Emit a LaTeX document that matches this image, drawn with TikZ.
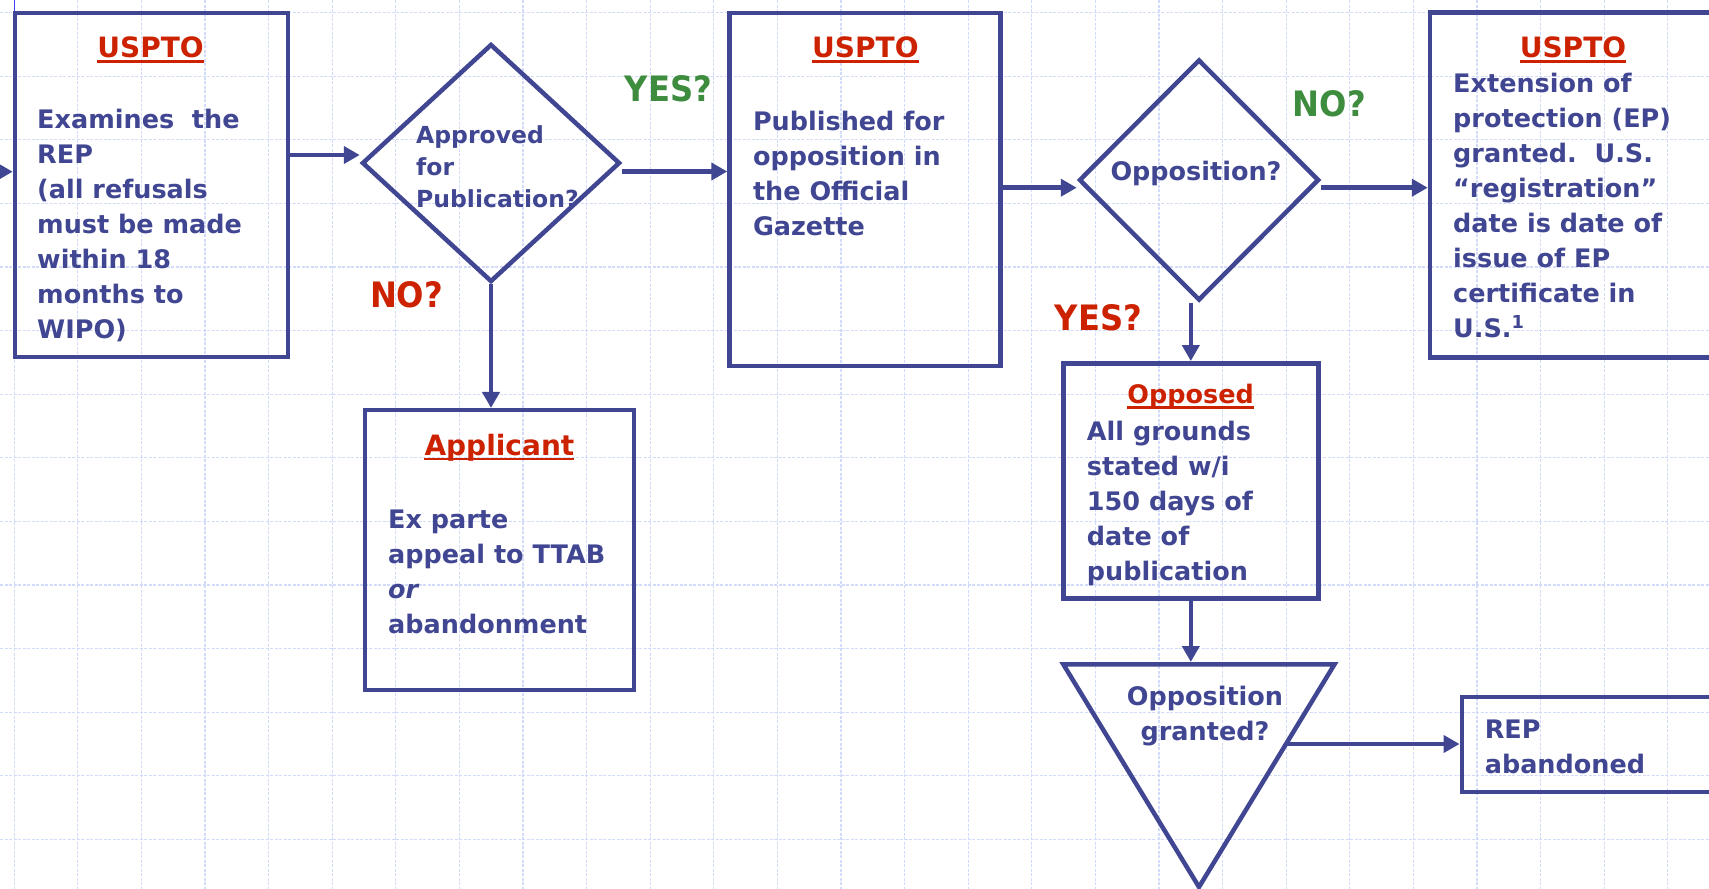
\documentclass[tikz,border=0pt]{standalone}
\usepackage{fontspec}
\setmainfont{DejaVu Sans}
\newfontfamily\tagfont{DejaVu Sans}[FakeStretch=0.92]
\usetikzlibrary{shapes.geometric,arrows.meta}
\definecolor{navy}{RGB}{64,70,145}
\definecolor{hdred}{RGB}{204,34,0}
\definecolor{yesgreen}{RGB}{62,140,62}
\definecolor{gridblue}{RGB}{210,219,250}
\newcommand\headline[1]{\draw[hdline] ([yshift=-4pt]#1.base west) -- ([yshift=-4pt]#1.base east);}

\begin{document}
\begin{tikzpicture}[x=1pt, y=-1pt,
  box/.style={draw=navy, line width=4.5pt, inner sep=0pt},
  decision/.style={diamond, draw=navy, line width=4.5pt, inner sep=0pt},
  flow/.style={navy, line width=4.5pt, -{Triangle[length=16pt,width=17pt]}},
  head/.style={text=hdred, font=\bfseries\fontsize{28}{34}\selectfont, inner sep=0pt, anchor=base},
  body/.style={text=navy, font=\bfseries\fontsize{25.5}{35}\selectfont, align=left, inner sep=0pt, anchor=base west},
  tag/.style={font=\tagfont\bfseries\fontsize{35}{40}\selectfont, inner sep=0pt, anchor=base},
  hdline/.style={hdred, line width=2.8pt},
  gridline/.style={gridblue, line width=1.2pt, dash pattern=on 3pt off 1.5pt}]
\path[use as bounding box, clip] (0,0) rectangle (1709,889);
\fill[white] (0,0) rectangle (1709,889);
\foreach \i in {0,...,26}
  \draw[gridline] (14.2+63.6*\i,0) -- (14.2+63.6*\i,889);
\foreach \j in {0,...,13}
  \draw[gridline] (0,12.6+63.6*\j) -- (1709,12.6+63.6*\j);
\draw[blue!75, line width=1.5pt] (14.5,0) -- (14.5,11);

% boxes and decisions (text nodes sit on their last baseline)
\node[box, minimum width=273pt, minimum height=344pt] (exam) at (151.5,185) {};
\node[head] (exam-h) at (150.6,57.5) {USPTO};
\headline{exam-h}
\node[body] (exam-t) at (37,338.3) {Examines\ \ the\\REP\\(all refusals\\must be made\\within 18\\months to\\WIPO)};

\node[decision, minimum width=258pt, minimum height=238pt] (approve) at (491,163) {};
\node[body, font=\bfseries\fontsize{23.5}{32}\selectfont] (approve-t) at (416,207) {Approved\\for\\Publication?};

\node[box, minimum width=271pt, minimum height=353pt] (publ) at (865,189.3) {};
\node[head] (publ-h) at (865.4,57.5) {USPTO};
\headline{publ-h}
\node[body] (publ-t) at (752.8,235) {Published for\\opposition in\\the Official\\Gazette};

\node[decision, minimum width=240pt, minimum height=241pt] (oppq) at (1199,180) {};
\node[body, anchor=base] (oppq-t) at (1196,180.5) {Opposition?};

\node[box, minimum width=340pt, minimum height=345pt] (grant) at (1600,184.8) {};
\node[head] (grant-h) at (1573,57.5) {USPTO};
\headline{grant-h}
\node[body] (grant-t) at (1453,337.7) {Extension of\\protection (EP)\\granted.\ \ U.S.\\“registration”\\date is date of\\issue of EP\\certificate in\\U.S.\textsuperscript{1}};

\node[box, minimum width=269pt, minimum height=280pt] (appeal) at (499.5,550.2) {};
\node[head] (appeal-h) at (499.4,455) {Applicant};
\headline{appeal-h}
\node[body] (appeal-t) at (388,633) {Ex parte\\appeal to TTAB\\\textit{or}\\abandonment};

\node[box, minimum width=255pt, minimum height=235pt] (opposed) at (1190.8,480.8) {};
\node[head, font=\bfseries\fontsize{25.5}{30}\selectfont] (opposed-h) at (1190.7,403.5) {Opposed};
\headline{opposed-h}
\node[body] (opposed-t) at (1086.7,580) {All grounds\\stated w/i\\150 days of\\date of\\publication};

\coordinate (tl) at (1063.3,664.3);
\coordinate (tr) at (1334.5,664.3);
\coordinate (tb) at (1199,887);
\draw[navy, line width=4.5pt] (tl) -- (tr) -- (tb) -- cycle;
\node[body, align=center, anchor=base] (granted-t) at (1205,740) {Opposition\\granted?};

\node[box, minimum width=310pt, minimum height=95pt] (rep) at (1616.8,744.3) {};
\node[body] (rep-t) at (1484.6,773.3) {REP\\abandoned};

% answers
\node[tag, text=yesgreen] (yes1) at (668.3,101.7) {YES?};
\node[tag, text=hdred] (no1) at (406.5,307) {NO?};
\node[tag, text=yesgreen] (no2) at (1329.3,116.5) {NO?};
\node[tag, text=hdred] (yes2) at (1098.3,330) {YES?};

% arrows
\coordinate (in0) at (-20,171.7);
\draw[flow] (in0) -- (in0 -| exam.west);
\coordinate (in1) at ([yshift=8pt]approve.west);
\draw[flow] (exam.east |- in1) -- (in1);
\coordinate (out1) at ([yshift=-8.5pt]approve.east);
\draw[flow] (out1) -- (out1 -| publ.west);
\coordinate (in2) at ([yshift=-7.7pt]oppq.west);
\draw[flow] (publ.east |- in2) -- (in2);
\coordinate (out2) at ([yshift=-7.7pt]oppq.east);
\draw[flow] (out2) -- (out2 -| grant.west);
\draw[flow] (approve.south) -- (approve.south |- appeal.north);
\draw[flow] (opposed.north |- oppq.south) -- (opposed.north);
\coordinate (gin) at (1190.8,662);
\draw[flow] (opposed.south) -- (gin);
\coordinate (gout) at (1286,744);
\draw[flow] (gout) -- (gout -| rep.west);
\end{tikzpicture}
\end{document}
